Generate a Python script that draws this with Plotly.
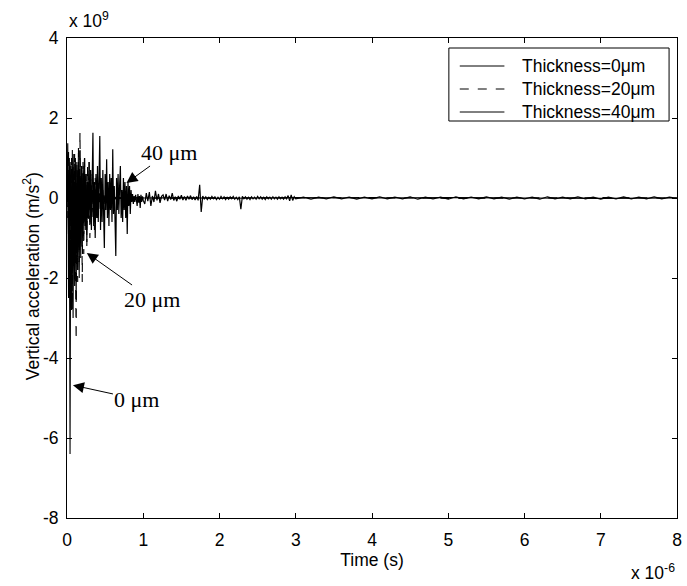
import plotly.graph_objects as go

# Time grids in microseconds (axis multiplier x 10^-6)
t_early = [round(i * 0.01, 2) for i in range(101)]          # 0.00 .. 1.00
t_mid = [round(1.02 + k * 0.02, 2) for k in range(100)]     # 1.02 .. 3.00
t_late = [round(3.1 + k * 0.1, 1) for k in range(50)]       # 3.1 .. 8.0
t_tail = [1.5, 2.0, 3.0, 4.0, 5.0, 6.0, 7.0, 8.0]

# Vertical acceleration in units of 10^9 m/s^2
acc_0um_early = [
    0.0, 1.37, -2.5, 0.8, -6.4, 0.9, -2.8, 1.2, -3.0, 0.6,
    -2.2, 1.0, -2.6, 0.7, -1.8, 0.9, -2.0, 0.5, -1.5, 0.8,
    -1.2, 0.6, -0.9, 0.5, -0.7, 0.4, -0.5, 0.3, -0.4, 0.2,
    -0.3, 0.15, -0.2, 0.1, -0.15, 0.1, -0.1, 0.08, -0.1, 0.05,
    -0.08, 0.06, -0.05, 0.04, -0.06, 0.05, -0.04, 0.03, -0.05, 0.04,
    -0.03, 0.03, -0.04, 0.02, -0.03, 0.03, -0.02, 0.02, -0.03, 0.02,
    -0.02, 0.03, -0.02, 0.02, -0.03, 0.02, -0.02, 0.02, -0.02, 0.01,
    -0.02, 0.02, -0.01, 0.02, -0.02, 0.01, -0.02, 0.01, -0.01, 0.02,
    -0.01, 0.01, -0.02, 0.01, -0.01, 0.01, -0.01, 0.01, -0.02, 0.01,
    -0.01, 0.01, -0.01, 0.01, -0.01, 0.01, -0.01, 0.01, -0.01, 0.01,
    0.0,
]
acc_0um_tail = [0.01, -0.01, 0.01, 0.0, 0.01, 0.0, -0.01, 0.0]

acc_20um_early = [
    0.0, -0.5, 1.2, -1.8, 0.6, -2.4, 1.0, -2.8, 0.8, -1.5,
    1.1, -1.2, -3.55, 0.9, -2.1, 1.3, -1.6, 1.65, -1.0, 0.7,
    -2.1, 0.9, -1.4, 1.1, -0.8, 0.6, -1.2, 0.8, -0.6, 0.9,
    -1.0, 0.5, -0.7, 0.6, -0.5, 0.4, -0.8, 0.5, -0.4, 0.3,
    -0.5, 0.3, -0.3, 0.4, -0.3, 0.2, -0.3, 0.2, -0.2, 0.15,
    -0.15, 0.1, -0.12, 0.08, -0.1, 0.06, -0.08, 0.05, -0.06, 0.04,
    -0.05, 0.04, -0.03, 0.03, -0.04, 0.03, -0.03, 0.02, -0.03, 0.02,
    -0.02, 0.02, -0.03, 0.02, -0.02, 0.01, -0.02, 0.02, -0.01, 0.01,
    -0.02, 0.01, -0.01, 0.02, -0.01, 0.01, -0.01, 0.01, -0.01, 0.01,
    -0.01, 0.01, -0.01, 0.01, -0.01, 0.01, -0.01, 0.01, -0.01, 0.01,
    0.0,
]
acc_20um_tail = [-0.01, 0.01, 0.0, 0.01, -0.01, 0.0, 0.01, 0.0]

acc_40um_early = [
    0.0, 0.6, -0.9, 1.0, -0.7, 0.8, -1.1, 0.5, -0.6, 1.1,
    -0.8, 0.4, -1.2, 0.9, -0.5, 0.7, -0.9, 1.2, -0.6, 0.5,
    -1.0, 0.8, -0.4, 1.0, -0.7, 0.6, -1.1, 0.4, -0.5, 0.9,
    -0.6, 0.7, -0.8, 0.5, 1.63, -0.7, 0.4, -1.0, 0.6, -0.5,
    0.8, -0.6, 0.3, 1.55, -0.8, 0.5, -0.6, 0.7, -0.4, -1.25,
    0.6, -0.3, 0.97, -0.5, 0.4, -0.7, 0.6, -0.3, 0.5, -0.6,
    1.22, -0.4, 0.3, -0.5, -1.45, 0.5, -0.3, 0.6, -0.4, 0.3,
    0.8, -0.5, 0.2, -0.6, 0.5, -0.3, 0.4, -0.5, 0.3, -0.9,
    0.4, -0.2, 0.3, -0.4, 0.2, -0.1, 0.1, -0.15, 0.05, -0.1,
    0.08, -0.05, -0.2, 0.1, -0.12, 0.05, -0.25, 0.08, -0.1, 0.04,
    -0.06,
]
acc_40um_mid = [
    -0.15, 0.12, -0.08, 0.15, -0.2, 0.05, -0.1, 0.18, -0.06, 0.1,
    -0.12, 0.04, 0.08, -0.05, 0.1, -0.08, 0.06, -0.04, 0.12, -0.06,
    0.03, -0.08, 0.05, -0.03, 0.07, -0.05, 0.04, -0.06, 0.05, -0.03,
    0.06, -0.04, 0.03, -0.05, 0.04, -0.06, 0.33, -0.35, 0.05, -0.02,
    0.03, -0.04, 0.02, -0.03, 0.04, -0.02, 0.03, -0.04, 0.02, -0.03,
    0.04, -0.02, 0.03, -0.04, 0.02, -0.03, 0.03, -0.02, 0.04, -0.03,
    0.02, -0.04, 0.03, -0.28, 0.04, -0.02, 0.03, -0.03, 0.02, -0.04,
    0.03, -0.02, 0.02, -0.03, 0.04, -0.02, 0.03, -0.03, 0.02, -0.04,
    0.03, -0.02, 0.02, -0.03, 0.03, -0.02, 0.02, -0.03, 0.03, -0.02,
    0.02, -0.03, 0.03, -0.02, 0.06, -0.07, 0.08, -0.06, 0.03, -0.02,
]
acc_40um_late = [
    0.02, -0.03, 0.02, -0.02, 0.03, -0.02, 0.02, -0.03, 0.02, -0.02,
    0.03, -0.02, 0.02, -0.02, 0.03, -0.03, 0.02, -0.02, 0.02, -0.03,
    0.03, -0.02, 0.02, -0.02, 0.03, -0.02, 0.02, -0.03, 0.02, -0.02,
    0.02, -0.03, 0.03, -0.02, 0.02, -0.02, 0.03, -0.02, 0.02, -0.03,
    0.02, -0.02, 0.03, -0.02, 0.02, -0.02, 0.03, -0.02, 0.02, -0.01,
]

legend_labels = ["Thickness=0μm", "Thickness=20μm", "Thickness=40μm"]
x_ticks = [0, 1, 2, 3, 4, 5, 6, 7, 8]
x_tick_text = ["0", "1", "2", "3", "4", "5", "6", "7", "8"]
y_ticks = [-8, -6, -4, -2, 0, 2, 4]
y_tick_text = ["-8", "-6", "-4", "-2", "0", "2", "4"]

SANS = "Liberation Sans, Arial, sans-serif"
SERIF = "Liberation Serif, Times New Roman, serif"
BLACK = "#000000"
FS = 17.5

fig = go.Figure()
fig.add_trace(go.Scatter(
    x=t_early + t_tail, y=acc_0um_early + acc_0um_tail, mode="lines",
    name=legend_labels[0], line=dict(color=BLACK, width=1.1, dash="solid"),
    showlegend=False))
fig.add_trace(go.Scatter(
    x=t_early + t_tail, y=acc_20um_early + acc_20um_tail, mode="lines",
    name=legend_labels[1], line=dict(color=BLACK, width=1.1, dash="dash"),
    showlegend=False))
fig.add_trace(go.Scatter(
    x=t_early + t_mid + t_late, y=acc_40um_early + acc_40um_mid + acc_40um_late,
    mode="lines", name=legend_labels[2],
    line=dict(color=BLACK, width=1.2, dash="solid"), showlegend=False))

axis_common = dict(
    showline=True, linecolor=BLACK, linewidth=1, mirror="ticks",
    ticks="inside", ticklen=5, tickwidth=1, tickcolor=BLACK,
    showgrid=False, zeroline=False,
    tickfont=dict(family=SANS, size=FS, color=BLACK),
)

fig.update_layout(
    width=687, height=586,
    margin=dict(l=67, r=5, t=38, b=68),
    paper_bgcolor="white", plot_bgcolor="white",
    font=dict(family=SANS, size=FS, color=BLACK),
    xaxis=dict(range=[0, 8], tickvals=x_ticks, ticktext=x_tick_text,
               ticklabelstandoff=6,
               title=dict(text="Time (s)", font=dict(family=SANS, size=FS), standoff=4),
               **axis_common),
    yaxis=dict(range=[-8, 4], tickvals=y_ticks, ticktext=y_tick_text,
               ticklabelstandoff=4, **axis_common),
)

# Y axis title
fig.add_annotation(xref="paper", yref="paper", x=(31 - 67) / 615.0, y=(518 - 276) / 480.0,
                   xanchor="center", yanchor="middle", textangle=-90,
                   text="Vertical acceleration (m/s<sup>2</sup>)", showarrow=False,
                   font=dict(family=SANS, size=FS, color=BLACK))

# Axis multipliers
fig.add_annotation(xref="paper", yref="paper", x=0, y=1, xanchor="left", yanchor="bottom",
                   yshift=5, text="x 10<sup>9</sup>", showarrow=False,
                   font=dict(family=SANS, size=FS, color=BLACK))
fig.add_annotation(xref="paper", yref="paper", x=1, y=0, xanchor="right", yanchor="top",
                   yshift=-41, text="x 10<sup>-6</sup>", showarrow=False,
                   font=dict(family=SANS, size=FS, color=BLACK))

# Thickness callouts
callouts = [
    ("40 μm", 0.78, 0.375, 43, -31),
    ("20 μm", 0.26, -1.375, 65, 46),
    ("0 μm", 0.078, -4.68, 64, 14),
]
for txt, tx, ty, ax, ay in callouts:
    fig.add_annotation(x=tx, y=ty, xref="x", yref="y", text=txt,
                       showarrow=True, ax=ax, ay=ay, axref="pixel", ayref="pixel",
                       arrowhead=2, arrowsize=2.2, arrowwidth=1, arrowcolor=BLACK,
                       font=dict(family=SERIF, size=22, color=BLACK))

# Legend box drawn in paper coordinates
def px_x(p):
    return (p - 67) / 615.0

def px_y(p):
    return (518 - p) / 480.0

fig.add_shape(type="rect", xref="paper", yref="paper",
              x0=px_x(452), x1=px_x(674), y0=px_y(121), y1=px_y(48),
              line=dict(color=BLACK, width=1), fillcolor="white")
legend_rows = [66, 89, 112]
legend_dash = ["solid", "dash", "solid"]
for lbl, row, dsh in zip(legend_labels, legend_rows, legend_dash):
    fig.add_shape(type="line", xref="paper", yref="paper",
                  x0=px_x(463), x1=px_x(508), y0=px_y(row), y1=px_y(row),
                  line=dict(color=BLACK, width=1, dash=dsh))
    fig.add_annotation(xref="paper", yref="paper", x=px_x(524), y=px_y(row),
                       xanchor="left", yanchor="middle", text=lbl, showarrow=False,
                       font=dict(family=SANS, size=FS, color=BLACK))

fig.write_html("out.html")
